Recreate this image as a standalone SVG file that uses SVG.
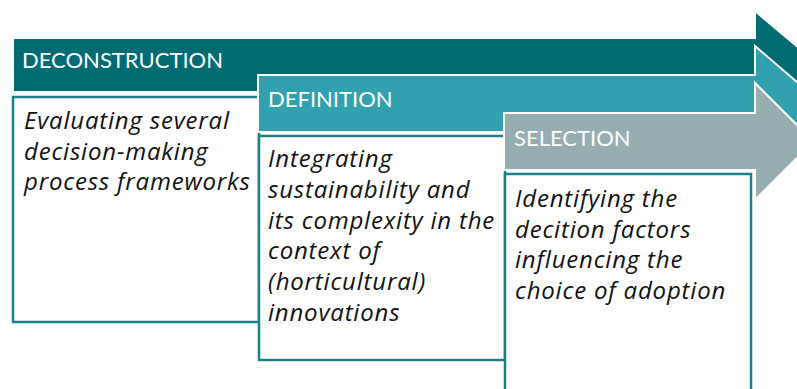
<svg xmlns="http://www.w3.org/2000/svg" width="797" height="389" viewBox="0 0 797 389">
  <style>
    .arrow { stroke: #ffffff; stroke-width: 2; stroke-linejoin: miter; }
    .a1 { fill: #006b72; }
    .a2 { fill: #32a1af; }
    .a3 { fill: #96aeb2; }
    .box { fill: #ffffff; stroke: #1b8089; stroke-width: 2.5; }
    .title { font-family: "Lato", "Liberation Sans", sans-serif; font-size: 22px; fill: #ffffff; }
    .body { font-family: "Open Sans", "Liberation Sans", sans-serif; font-size: 24px; letter-spacing: 0.8px; font-style: italic; fill: #111111; }
  </style>

  <rect width="797" height="389" fill="#ffffff"/>

  <!-- Stage 1: deconstruction -->
  <g id="deconstruction">
    <path class="arrow a1" d="M13,38 H755 V11 L819,65 L755,119 V92 H13 Z"/>
    <rect class="box" x="13" y="97" width="246" height="225"/>
    <text class="title" x="22" y="68">DECONSTRUCTION</text>
    <text class="body">
      <tspan x="24" y="129">Evaluating several</tspan>
      <tspan x="24" y="159.7">decision-making</tspan>
      <tspan x="24" y="190.4">process frameworks</tspan>
    </text>
  </g>

  <!-- Stage 2: definition -->
  <g id="definition">
    <path class="arrow a2" d="M258,75 H755 V46 L822,103.5 L755,161 V132 H258 Z"/>
    <rect class="box" x="259" y="136" width="246" height="224"/>
    <text class="title" x="268" y="107">DEFINITION</text>
    <text class="body">
      <tspan x="268" y="167">Integrating</tspan>
      <tspan x="268" y="197.8">sustainability and</tspan>
      <tspan x="268" y="228.6">its complexity in the</tspan>
      <tspan x="268" y="259.4">context of</tspan>
      <tspan x="268" y="290.2">(horticultural)</tspan>
      <tspan x="268" y="321">innovations</tspan>
    </text>
  </g>

  <!-- Stage 3: selection -->
  <g id="selection">
    <path class="arrow a3" d="M504,113 H755 V83 L813.5,141.5 L755,200 V170 H504 Z"/>
    <rect class="box" x="505" y="174" width="246" height="230"/>
    <text class="title" x="514" y="146">SELECTION</text>
    <text class="body">
      <tspan x="515" y="207">Identifying the</tspan>
      <tspan x="515" y="237.5">decition factors</tspan>
      <tspan x="515" y="268">influencing the</tspan>
      <tspan x="515" y="298.5">choice of adoption</tspan>
    </text>
  </g>

  <g id="connectors"/>
</svg>
